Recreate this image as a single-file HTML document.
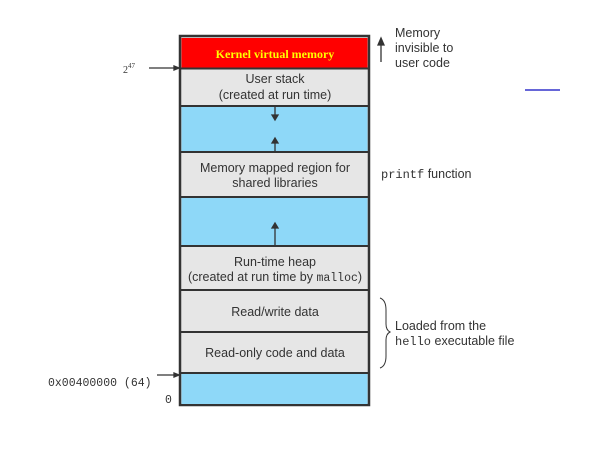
<!DOCTYPE html>
<html><head><style>body{margin:0;background:#fff}svg{display:block}</style></head><body>
<svg width="600" height="450" xmlns="http://www.w3.org/2000/svg" font-family="Liberation Sans, sans-serif">
<rect x="0" y="0" width="600" height="450" fill="#fff"/>
<rect x="180" y="36" width="189" height="369" fill="#e6e6e6" stroke="#333" stroke-width="2.5"/>
<rect x="181.5" y="38" width="186" height="30" fill="#ff0000"/>
<rect x="181.5" y="107" width="186" height="44" fill="#8ed8f8"/>
<rect x="181.5" y="198" width="186" height="47" fill="#8ed8f8"/>
<rect x="181.5" y="374" width="186" height="30" fill="#8ed8f8"/>
<g stroke="#333" stroke-width="2">
<line x1="180" y1="68.5" x2="369" y2="68.5"/>
<line x1="180" y1="106" x2="369" y2="106"/>
<line x1="180" y1="152" x2="369" y2="152"/>
<line x1="180" y1="197" x2="369" y2="197"/>
<line x1="180" y1="246" x2="369" y2="246"/>
<line x1="180" y1="290" x2="369" y2="290"/>
<line x1="180" y1="332" x2="369" y2="332"/>
<line x1="180" y1="373" x2="369" y2="373"/>
</g>
<text x="275" y="58" text-anchor="middle" font-family="Liberation Serif, serif" font-weight="bold" font-size="12" fill="#ffff00">Kernel virtual memory</text>
<g font-size="12.5" fill="#333" text-anchor="middle">
<text x="275" y="83">User stack</text>
<text x="275" y="99">(created at run time)</text>
<text x="275" y="172">Memory mapped region for</text>
<text x="275" y="187">shared libraries</text>
<text x="275" y="266">Run-time heap</text>
<text x="275" y="281">(created at run time by <tspan font-family="Liberation Mono, monospace" font-size="11.5">malloc</tspan>)</text>
<text x="275" y="316">Read/write data</text>
<text x="275" y="357">Read-only code and data</text>
</g>
<g stroke="#333" stroke-width="1.3" fill="#333">
<line x1="275" y1="107" x2="275" y2="116"/><polygon points="272,115 278,115 275,120"/>
<line x1="275" y1="151" x2="275" y2="141"/><polygon points="272,143 278,143 275,138"/>
<line x1="275" y1="245" x2="275" y2="226"/><polygon points="272,228 278,228 275,223"/>
<line x1="149" y1="68" x2="176" y2="68"/><polygon points="174,66 174,70 179,68"/>
<line x1="157" y1="375" x2="176" y2="375"/><polygon points="174,373 174,377 179,375"/>
<line x1="381" y1="62" x2="381" y2="43"/><polygon points="378,45 384,45 381,38"/>
</g>
<text x="123" y="73" font-family="Liberation Serif, serif" font-size="10" fill="#333">2<tspan dy="-5" font-size="7">47</tspan></text>
<g font-size="12.5" fill="#333">
<text x="395" y="37">Memory</text>
<text x="395" y="52">invisible to</text>
<text x="395" y="67">user code</text>
<text x="381" y="178"><tspan font-family="Liberation Mono, monospace" font-size="12">printf</tspan> function</text>
<text x="395" y="330">Loaded from the</text>
<text x="395" y="345"><tspan font-family="Liberation Mono, monospace" font-size="12">hello</tspan> executable file</text>
</g>
<line x1="525" y1="90" x2="560" y2="90" stroke="#3333cc" stroke-width="1.5"/>
<path d="M380,298 Q386,300 386,310 L386,324 Q386,330 390,332 Q386,334 386,340 L386,356 Q386,366 380,368" fill="none" stroke="#333" stroke-width="1"/>
<g font-family="Liberation Mono, monospace" font-size="11.5" fill="#333">
<text x="48" y="386">0x00400000 (64)</text>
<text x="165" y="403">0</text>
</g>
</svg>
</body></html>
